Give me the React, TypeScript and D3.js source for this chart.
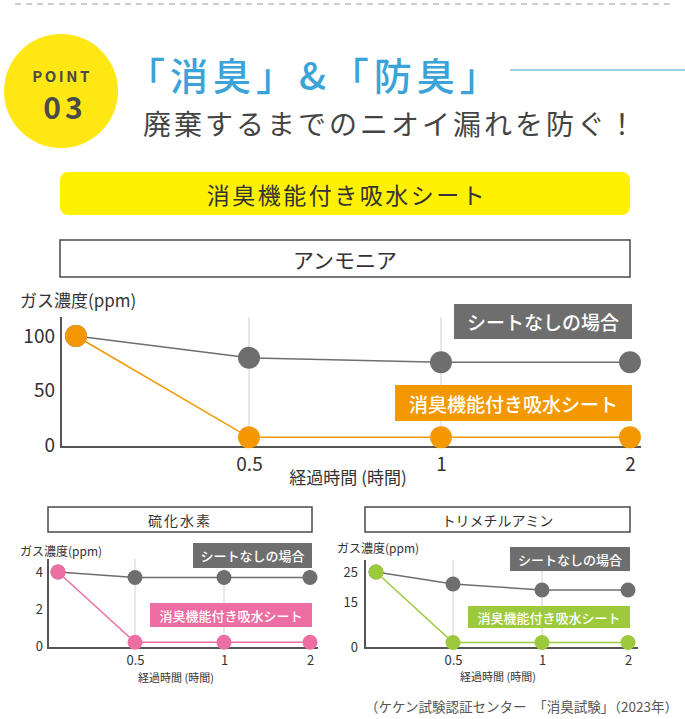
import * as d3 from 'd3'
import { useEffect, useRef } from 'react'

const FONT = '"Noto Sans CJK JP", "Noto Sans", sans-serif'

// elapsed time (hours) and the labels on the time axis
const times = [0, 0.5, 1, 2]
const timeTicks = [0.5, 1, 2]

// アンモニア
const ammoniaNoSheet = [100, 80, 76, 76]
const ammoniaSheet = [100, 7, 7, 7]
const ammoniaTicks = [0, 50, 100]

// 硫化水素
const h2sNoSheet = [4, 3.7, 3.7, 3.7]
const h2sSheet = [4, 0.2, 0.2, 0.2]
const h2sTicks = [0, 2, 4]

// トリメチルアミン
const tmaNoSheet = [25, 21, 19, 19]
const tmaSheet = [25, 1.5, 1.5, 1.5]
const tmaTicks = [0, 15, 25]

const GREY = '#6e6e6e'

function drawChart(svg: any, o: any) {
    const x = d3.scaleLinear().domain(times).range(o.xRange)
    const y = d3.scaleLinear().domain([0, o.yMax]).range(o.yRange)

    const g = svg.append('g')

    // title box
    g.append('rect')
        .attr('x', o.box[0])
        .attr('y', o.box[1])
        .attr('width', o.box[2])
        .attr('height', o.box[3])
        .attr('fill', '#fff')
        .attr('stroke', '#4a4a4a')
        .attr('stroke-width', 1.5)
    g.append('text')
        .attr('x', o.box[0] + o.box[2] / 2)
        .attr('y', o.box[1] + o.box[3] / 2)
        .attr('text-anchor', 'middle')
        .attr('dominant-baseline', 'central')
        .attr('font-size', o.boxFont)
        .attr('letter-spacing', o.boxSpacing || 0)
        .attr('fill', '#333')
        .text(o.title)

    g.append('text')
        .attr('x', o.yTitle[0])
        .attr('y', o.yTitle[1])
        .attr('dominant-baseline', 'central')
        .attr('font-size', o.yTitleFont)
        .attr('fill', '#333')
        .text('ガス濃度(ppm)')

    // vertical grid lines
    g.append('g')
        .selectAll('line')
        .data(timeTicks.slice(0, 2))
        .enter()
        .append('line')
        .attr('x1', (d: number) => x(d))
        .attr('x2', (d: number) => x(d))
        .attr('y1', o.axisTop)
        .attr('y2', o.baseline)
        .attr('stroke', '#d2d2d2')
        .attr('stroke-width', 1)

    // legend boxes
    const legends = [
        { box: o.greyBox, fill: GREY, label: 'シートなしの場合' },
        { box: o.colorBox, fill: o.color, label: '消臭機能付き吸水シート' },
    ]
    legends.forEach((l) => {
        g.append('rect')
            .attr('x', l.box[0])
            .attr('y', l.box[1])
            .attr('width', l.box[2])
            .attr('height', l.box[3])
            .attr('fill', l.fill)
        g.append('text')
            .attr('x', l.box[0] + l.box[2] / 2)
            .attr('y', l.box[1] + l.box[3] / 2)
            .attr('text-anchor', 'middle')
            .attr('dominant-baseline', 'central')
            .attr('font-size', o.legendFont)
            .attr('font-weight', 500)
            .attr('fill', '#fff')
            .text(l.label)
    })

    // axes
    const axisY = d3
        .axisLeft(y)
        .tickValues(o.yTicks)
        .tickSize(0)
        .tickPadding(o.yPad)
        .tickFormat((d: any) => String(d))
    const gy = g.append('g').attr('transform', `translate(${o.xAxis}, 0)`).call(axisY)
    gy.select('.domain').remove()
    gy.selectAll('.tick text').attr('font-size', o.tickFont).attr('font-family', FONT).attr('fill', '#333')

    const axisX = d3
        .axisBottom(x)
        .tickValues(timeTicks)
        .tickSize(0)
        .tickPadding(o.xPad)
        .tickFormat((d: any) => String(d))
    const gx = g.append('g').attr('transform', `translate(0, ${o.baseline})`).call(axisX)
    gx.select('.domain').remove()
    gx.selectAll('.tick text').attr('font-size', o.tickFont).attr('font-family', FONT).attr('fill', '#333')

    g.append('path')
        .attr('d', `M${o.xAxis},${o.axisTop}V${o.baseline}H${o.axisRight}`)
        .attr('fill', 'none')
        .attr('stroke', '#555')
        .attr('stroke-width', 2)

    g.append('text')
        .attr('x', o.xTitle[0])
        .attr('y', o.xTitle[1])
        .attr('text-anchor', 'middle')
        .attr('dominant-baseline', 'central')
        .attr('font-size', o.xTitleFont)
        .attr('fill', '#333')
        .text('経過時間 (時間)')

    // series: grey first so the coloured start point sits on top
    const line = d3
        .line<number>()
        .x((d, i) => x(times[i]))
        .y((d) => y(d))
    const series = [
        { values: o.grey, color: GREY },
        { values: o.colored, color: o.color },
    ]
    series.forEach((s) => {
        g.append('path')
            .attr('d', line(s.values))
            .attr('fill', 'none')
            .attr('stroke', s.color)
            .attr('stroke-width', 1.5)
        g.append('g')
            .selectAll('circle')
            .data(s.values)
            .enter()
            .append('circle')
            .attr('cx', (d: number, i: number) => x(times[i]))
            .attr('cy', (d: number) => y(d))
            .attr('r', o.r)
            .attr('fill', s.color)
    })
}

export default function App() {
    const ref = useRef<SVGSVGElement>(null)

    useEffect(() => {
        const svg = d3.select(ref.current)
        svg.selectAll('*').remove()

        // header
        svg.append('line')
            .attr('x1', 15)
            .attr('x2', 672)
            .attr('y1', 4)
            .attr('y2', 4)
            .attr('stroke', '#bdbdbd')
            .attr('stroke-width', 1.5)
            .attr('stroke-dasharray', '6 5')

        svg.append('circle').attr('cx', 61).attr('cy', 91).attr('r', 57).attr('fill', '#ffe714')
        svg.append('text')
            .attr('x', 62)
            .attr('y', 75)
            .attr('text-anchor', 'middle')
            .attr('dominant-baseline', 'central')
            .attr('font-size', 15)
            .attr('font-weight', 700)
            .attr('letter-spacing', 2.5)
            .attr('fill', '#4a4a4a')
            .text('POINT')
        svg.append('text')
            .attr('x', 65)
            .attr('y', 106)
            .attr('text-anchor', 'middle')
            .attr('dominant-baseline', 'central')
            .attr('font-size', 30)
            .attr('font-weight', 700)
            .attr('letter-spacing', 4)
            .attr('fill', '#4a4a4a')
            .text('03')

        svg.append('text')
            .attr('x', 127)
            .attr('y', 73)
            .attr('dominant-baseline', 'central')
            .attr('font-size', 38)
            .attr('font-weight', 500)
            .attr('letter-spacing', 5)
            .attr('fill', '#3ba3d8')
            .text('「消臭」&「防臭」')
        svg.append('line')
            .attr('x1', 510)
            .attr('x2', 685)
            .attr('y1', 70)
            .attr('y2', 70)
            .attr('stroke', '#9fd0e0')
            .attr('stroke-width', 2)
        svg.append('text')
            .attr('x', 143)
            .attr('y', 123)
            .attr('dominant-baseline', 'central')
            .attr('font-size', 28)
            .attr('letter-spacing', 3)
            .attr('fill', '#444')
            .text('廃棄するまでのニオイ漏れを防ぐ！')

        svg.append('rect')
            .attr('x', 60)
            .attr('y', 172)
            .attr('width', 570)
            .attr('height', 43)
            .attr('rx', 8)
            .attr('fill', '#fff100')
        svg.append('text')
            .attr('x', 347)
            .attr('y', 194)
            .attr('text-anchor', 'middle')
            .attr('dominant-baseline', 'central')
            .attr('font-size', 23)
            .attr('letter-spacing', 2.5)
            .attr('fill', '#333')
            .text('消臭機能付き吸水シート')

        drawChart(svg, {
            title: 'アンモニア',
            box: [60, 240, 570, 37],
            boxFont: 21,
            xRange: [76, 249, 441, 630],
            yMax: 100,
            yRange: [445, 336],
            yTicks: ammoniaTicks,
            grey: ammoniaNoSheet,
            colored: ammoniaSheet,
            color: '#f39800',
            r: 11,
            xAxis: 61,
            axisTop: 317,
            baseline: 447,
            axisRight: 641,
            yPad: 6,
            xPad: 11,
            tickFont: 19,
            yTitle: [20, 299],
            yTitleFont: 17,
            xTitle: [348, 476],
            xTitleFont: 17,
            legendFont: 19,
            greyBox: [454, 304, 178, 35],
            colorBox: [395, 385, 237, 36],
        })

        drawChart(svg, {
            title: '硫化水素',
            box: [48, 507, 264, 25],
            boxFont: 14,
            boxSpacing: 2,
            xRange: [58, 135, 224, 310],
            yMax: 4,
            yRange: [646, 572],
            yTicks: h2sTicks,
            grey: h2sNoSheet,
            colored: h2sSheet,
            color: '#ec6ea2',
            r: 7.5,
            xAxis: 48,
            axisTop: 559,
            baseline: 648,
            axisRight: 318,
            yPad: 5,
            xPad: 8,
            tickFont: 13,
            yTitle: [20, 550],
            yTitleFont: 12,
            xTitle: [176, 677],
            xTitleFont: 11,
            legendFont: 13,
            greyBox: [193, 543, 119, 25],
            colorBox: [150, 603, 162, 24],
        })

        drawChart(svg, {
            title: 'トリメチルアミン',
            box: [365, 507, 265, 25],
            boxFont: 14,
            xRange: [376, 453, 542, 628],
            yMax: 25,
            yRange: [647, 572],
            yTicks: tmaTicks,
            grey: tmaNoSheet,
            colored: tmaSheet,
            color: '#9dca3c',
            r: 7.5,
            xAxis: 365,
            axisTop: 560,
            baseline: 648,
            axisRight: 638,
            yPad: 7,
            xPad: 8,
            tickFont: 13,
            yTitle: [337, 547],
            yTitleFont: 12,
            xTitle: [498, 676],
            xTitleFont: 11,
            legendFont: 13,
            greyBox: [510, 547, 120, 24],
            colorBox: [468, 606, 162, 22],
        })

        svg.append('text')
            .attr('x', 678)
            .attr('y', 706)
            .attr('text-anchor', 'end')
            .attr('dominant-baseline', 'central')
            .attr('font-size', 13.5)
            .attr('fill', '#555')
            .text('（ケケン試験認証センター　「消臭試験」（2023年）')
    }, [])

    return (
        <div style={{ position: 'absolute', left: 0, top: 0 }}>
            <svg ref={ref} width={685} height={719} fontFamily={FONT} style={{ display: 'block', background: '#fff' }} />
        </div>
    )
}
